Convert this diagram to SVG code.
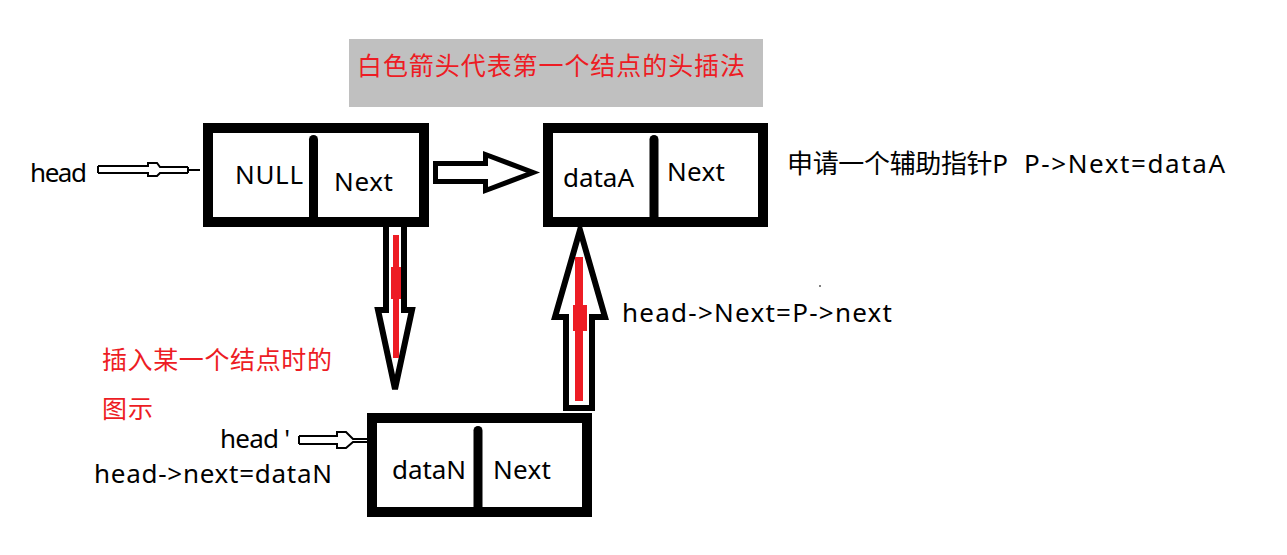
<svg xmlns="http://www.w3.org/2000/svg" width="1287" height="555" viewBox="0 0 1287 555">
<style>
.box{fill:#fff;stroke:#000;stroke-width:10}
.div{stroke:#000;stroke-width:9;stroke-linecap:round}
.t{font-family:"Noto Sans","Noto Sans CJK SC",sans-serif;font-size:26px;fill:#000}
.r{font-family:"Noto Sans CJK SC",sans-serif;font-size:25px;fill:#ed1c24}
.big{fill:#fff;stroke:#000;stroke-linejoin:miter}
.thin{fill:none;stroke:#000;stroke-width:2}
.red{fill:#ed1c24}
</style>
<rect width="1287" height="555" fill="#fff"/>
<g id="title">
<rect x="349" y="39" width="414" height="68" fill="#c0c0c0"/>
<text class="r" x="357" y="75" font-size="27" textLength="388">白色箭头代表第一个结点的头插法</text>
</g>
<g id="connectors">
<path class="thin" d="M98,166 H148 V163 H157 L160,167 H188 M98,173 H148 V176 H157 L160,173 H188 M98,166 V173 M188,167 V173 M188,170 H200"/>
<path class="thin" d="M299,436 H337 V432 H346 L353,439 H367 M299,444 H337 V448 H346 L353,442 H367 M299,436 V444"/>
<polygon class="big" stroke-width="5" points="435.5,163.5 485.5,163.5 485.5,154.5 533,172.5 485.5,190.5 485.5,181.5 435.5,181.5"/>
<polygon class="big" stroke-width="6" points="386,222 404,222 404,310 412,310 395,389 378,310 386,310"/>
<rect class="red" x="393" y="235" width="6" height="123"/>
<rect class="red" x="391" y="267" width="10" height="32"/>
<polygon class="big" stroke-width="6" points="566,408 592,408 592,317 605,317 580,230 555,317 566,317"/>
<rect class="red" x="575" y="257" width="8" height="144"/>
<rect class="red" x="573" y="305" width="14" height="26"/>
</g>
<g id="node1">
<rect class="box" x="208" y="128" width="216" height="94"/>
<line class="div" x1="313.5" y1="139.5" x2="313.5" y2="220"/>
<text class="t" x="235" y="184" textLength="68">NULL</text>
<text class="t" x="334" y="191" textLength="59">Next</text>
</g>
<g id="node2">
<rect class="box" x="548" y="128" width="215" height="94"/>
<line class="div" x1="654" y1="139.5" x2="654" y2="220"/>
<text class="t" x="563" y="187" textLength="71">dataA</text>
<text class="t" x="667" y="181" textLength="58">Next</text>
</g>
<g id="node3">
<rect class="box" x="372" y="418" width="215" height="94"/>
<line class="div" x1="478" y1="430.5" x2="478" y2="512"/>
<text class="t" x="392" y="479" textLength="74">dataN</text>
<text class="t" x="493" y="479" textLength="58">Next</text>
</g>
<g id="labels">
<text class="t" x="30" y="182" textLength="57">head</text>
<text class="t" x="220" y="448" textLength="70">head '</text>
<text class="t" x="94" y="483" textLength="238">head-&gt;next=dataN</text>
<text class="t" x="622" y="322" textLength="270">head-&gt;Next=P-&gt;next</text>
<text class="t" x="787" y="173" textLength="221">申请一个辅助指针P</text>
<text class="t" x="1024" y="173" textLength="201">P-&gt;Next=dataA</text>
<text class="r" x="102" y="369" textLength="230">插入某一个结点时的</text>
<text class="r" x="102" y="418" textLength="51">图示</text>
<rect x="819" y="285" width="2" height="2" fill="#808080"/>
</g>
</svg>
